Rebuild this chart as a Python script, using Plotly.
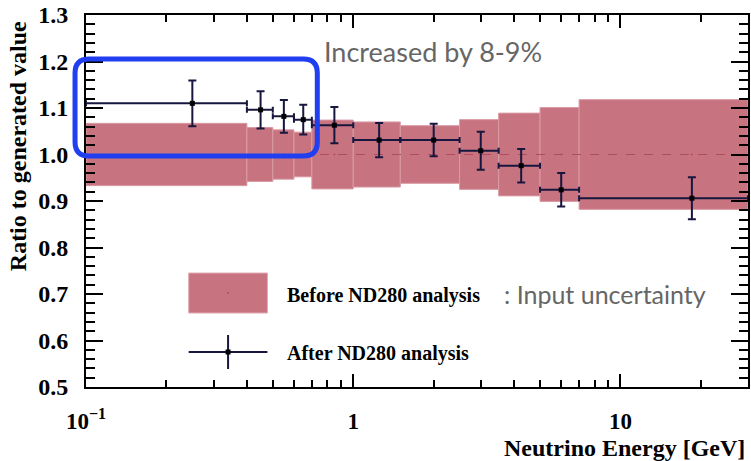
import plotly.graph_objects as go
import numpy as np

# ---------------- data ----------------
bin_edges = [0.1, 0.4, 0.5, 0.6, 0.7, 1.0, 1.5, 2.5, 3.5, 5.0, 7.0, 30.0]
bin_centers = [0.25, 0.45, 0.55, 0.65, 0.85, 1.25, 2.0, 3.0, 4.25, 6.0, 18.5]
before_value = [1.0] * 11
before_err = [0.067, 0.058, 0.053, 0.048, 0.074, 0.070, 0.062, 0.075, 0.089, 0.101, 0.118]
after_value = [1.110, 1.096, 1.082, 1.075, 1.063, 1.031, 1.031, 1.008, 0.976, 0.924, 0.906]
after_err = [0.049, 0.040, 0.035, 0.032, 0.039, 0.037, 0.035, 0.041, 0.036, 0.036, 0.045]
y_ticks = [0.5, 0.6, 0.7, 0.8, 0.9, 1.0, 1.1, 1.2, 1.3]
x_ticks = [0.1, 1, 10]
x_ticktext = ["10<sup>\u22121</sup>", "1", "10"]
x_minor = [0.2, 0.3, 0.4, 0.5, 0.6, 0.7, 0.8, 0.9, 2, 3, 4, 5, 6, 7, 8, 9, 20, 30]

BAND = "#c87480"
NAVY = "#16163f"
SERIF = "Liberation Serif"
SANS = "Lato"

W, H = 751, 461
ML, MR, MT, MB = 86, 1, 15, 74
PW, PH = W - ML - MR, H - MT - MB

def px(xp):
    return (xp - ML) / PW

def py(yp):
    return (H - MB - yp) / PH

fig = go.Figure()

# Before bands
for i in range(len(bin_centers)):
    lo, hi = bin_edges[i], bin_edges[i + 1]
    b = before_value[i] - before_err[i]
    t = before_value[i] + before_err[i]
    fig.add_trace(go.Scatter(
        x=[lo, hi, hi, lo, lo], y=[b, b, t, t, b],
        mode="lines", fill="toself", fillcolor=BAND,
        line=dict(color="#d99aa4", width=1), hoverinfo="skip", showlegend=False))

# Before central value (dashed)
step_x, step_y = [], []
for i in range(len(bin_centers)):
    step_x += [bin_edges[i], bin_edges[i + 1]]
    step_y += [before_value[i], before_value[i]]
fig.add_trace(go.Scatter(x=step_x, y=step_y, mode="lines",
                         line=dict(color="#b04c60", width=1, dash="dash"),
                         hoverinfo="skip", showlegend=False))
fig.add_trace(go.Scatter(x=bin_centers, y=before_value, mode="markers",
                         marker=dict(color="#b04c60", size=2),
                         hoverinfo="skip", showlegend=False))

# After points with errors
ex_plus = [bin_edges[i + 1] - bin_centers[i] for i in range(len(bin_centers))]
ex_minus = [bin_centers[i] - bin_edges[i] for i in range(len(bin_centers))]
fig.add_trace(go.Scatter(
    x=bin_centers, y=after_value, mode="markers",
    marker=dict(color="black", size=5, symbol="square"),
    error_x=dict(type="data", array=ex_plus, arrayminus=ex_minus, symmetric=False,
                 color=NAVY, thickness=2, width=3),
    error_y=dict(type="data", array=after_err, color=NAVY, thickness=2, width=4),
    hoverinfo="skip", showlegend=False))

# Legend (drawn manually)
fig.add_shape(type="rect", xref="paper", yref="paper",
              x0=px(189), x1=px(268), y0=py(313), y1=py(273),
              fillcolor=BAND, line=dict(color="#e0aab2", width=1))
fig.add_shape(type="circle", xref="paper", yref="paper",
              x0=px(227.5), x1=px(229.5), y0=py(294), y1=py(292),
              fillcolor="#b04c60", line=dict(width=0))
fig.add_shape(type="line", xref="paper", yref="paper",
              x0=px(189), x1=px(268), y0=py(352), y1=py(352),
              line=dict(color=NAVY, width=2))
fig.add_shape(type="line", xref="paper", yref="paper",
              x0=px(228.5), x1=px(228.5), y0=py(335), y1=py(369),
              line=dict(color=NAVY, width=2))
fig.add_shape(type="rect", xref="paper", yref="paper",
              x0=px(226), x1=px(231), y0=py(354.5), y1=py(349.5),
              fillcolor="black", line=dict(width=0))

fig.add_annotation(text="<b>Before ND280 analysis</b>", xref="paper", yref="paper",
                   x=px(286), y=py(295), xanchor="left", yanchor="middle", showarrow=False,
                   font=dict(family=SERIF, size=20, color="black"))
fig.add_annotation(text=": Input uncertainty", xref="paper", yref="paper",
                   x=px(503), y=py(294), xanchor="left", yanchor="middle", showarrow=False,
                   font=dict(family=SANS, size=25, color="#666666"))
fig.add_annotation(text="<b>After ND280 analysis</b>", xref="paper", yref="paper",
                   x=px(286), y=py(353), xanchor="left", yanchor="middle", showarrow=False,
                   font=dict(family=SERIF, size=20, color="black"))

# Highlight box
x0, x1, y0, y1, r = px(75), px(318), py(59), py(156), 14
rx, ry = r / PW, r / PH
path = (f"M {x0+rx},{y0} L {x1-rx},{y0} Q {x1},{y0} {x1},{y0-ry} "
        f"L {x1},{y1+ry} Q {x1},{y1} {x1-rx},{y1} L {x0+rx},{y1} "
        f"Q {x0},{y1} {x0},{y1+ry} L {x0},{y0-ry} Q {x0},{y0} {x0+rx},{y0} Z")
fig.add_shape(type="path", path=path, xref="paper", yref="paper",
              line=dict(color="#1f3ff0", width=5))
fig.add_annotation(text="Increased by 8-9%", xref="paper", yref="paper",
                   x=px(323), y=py(51), xanchor="left", yanchor="middle", showarrow=False,
                   font=dict(family=SANS, size=27, color="#666666"))

# Axis titles
fig.add_annotation(text="<b>Neutrino Energy [GeV]</b>", xref="paper", yref="paper",
                   x=px(749), y=py(448), xanchor="right", yanchor="middle", showarrow=False,
                   font=dict(family=SERIF, size=24, color="black"))
fig.add_annotation(text="<b>Ratio to generated value</b>", xref="paper", yref="paper",
                   x=px(18), y=py(146), xanchor="center", yanchor="middle", showarrow=False,
                   textangle=-90, font=dict(family=SERIF, size=24, color="black"))

fig.update_layout(
    width=W, height=H,
    margin=dict(l=ML, r=MR, t=MT, b=MB),
    paper_bgcolor="white", plot_bgcolor="white",
    showlegend=False,
    xaxis=dict(type="log", range=[np.log10(0.1), np.log10(30)],
               tickmode="array", tickvals=x_ticks, ticktext=x_ticktext,
               ticks="inside", ticklen=13, tickwidth=1.5, tickcolor="black",
               minor=dict(tickmode="array", tickvals=x_minor, ticks="inside",
                          ticklen=7, tickwidth=1.5, tickcolor="black", showgrid=False),
               showline=True, linecolor="black", linewidth=2, mirror="ticks",
               showgrid=False, zeroline=False, ticklabelstandoff=12,
               tickfont=dict(family=SERIF, size=23, color="black", weight="bold")),
    yaxis=dict(range=[0.5, 1.3], tickmode="array", tickvals=y_ticks,
               ticktext=[f"{v:.1f}" for v in y_ticks],
               ticks="inside", ticklen=17, tickwidth=1.5, tickcolor="black",
               minor=dict(dtick=0.02, tick0=0.5, ticks="inside", ticklen=9,
                          tickwidth=1.5, tickcolor="black", showgrid=False),
               showline=True, linecolor="black", linewidth=2, mirror="ticks",
               showgrid=False, zeroline=False, ticklabelstandoff=11,
               tickfont=dict(family=SERIF, size=24, color="black", weight="bold")),
)

fig.write_html("out.html")
